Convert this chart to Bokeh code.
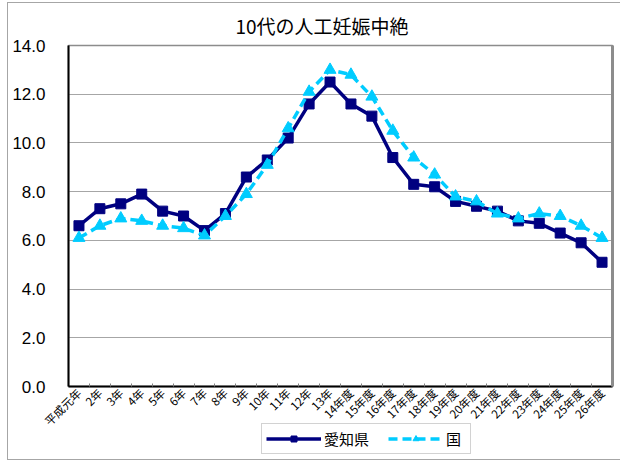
from bokeh.plotting import figure
from bokeh.layouts import column
from bokeh.models import Range1d, LinearAxis, FixedTicker, Legend, LegendItem, PrintfTickFormatter
from bokeh.embed import file_html
from bokeh.resources import INLINE
import math

# ---- data ----
years = ["平成元年", "2年", "3年", "4年", "5年", "6年", "7年", "8年", "9年", "10年",
         "11年", "12年", "13年", "14年度", "15年度", "16年度", "17年度", "18年度",
         "19年度", "20年度", "21年度", "22年度", "23年度", "24年度", "25年度", "26年度"]
aichi = [6.6, 7.3, 7.5, 7.9, 7.2, 7.0, 6.4, 7.1, 8.6, 9.3, 10.2, 11.6, 12.5,
         11.6, 11.1, 9.4, 8.3, 8.2, 7.6, 7.4, 7.2, 6.8, 6.7, 6.3, 5.9, 5.1]
national = [6.1, 6.6, 6.9, 6.8, 6.6, 6.5, 6.2, 7.0, 7.9, 9.1, 10.6, 12.1, 13.0,
            12.8, 11.9, 10.5, 9.4, 8.7, 7.8, 7.6, 7.1, 6.9, 7.1, 7.0, 6.6, 6.1]
y_ticks = [0, 2, 4, 6, 8, 10, 12, 14]
title_text = "10代の人工妊娠中絶"
series_names = ["愛知県", "国"]

JP = "Noto Sans CJK JP"
NAVY = "#000080"
CYAN = "#00CCFF"
FRAME_GRAY = "#a6a6a6"

xs = list(range(len(years)))

p1 = figure(width=620, height=437, x_range=Range1d(-0.5, len(years) - 0.5),
            y_range=Range1d(0, 14), output_backend="svg", toolbar_location=None,
            min_border_left=68, min_border_top=45, min_border_right=8, min_border_bottom=50)

p1.title.text = title_text
p1.title.align = "left"
p1.title.offset = 167
p1.title.standoff = 14
p1.title.text_font = JP
p1.title.text_font_size = "19px"
p1.title.text_font_style = "normal"
p1.title.text_color = "#000000"

p1.outline_line_color = "#8c8c8c"
p1.outline_line_width = 1.5
p1.background_fill_color = "white"
p1.border_fill_alpha = 0

p1.xgrid.visible = False
p1.ygrid.grid_line_color = FRAME_GRAY
p1.ygrid.grid_line_width = 1
p1.ygrid.ticker = FixedTicker(ticks=y_ticks)

xa = p1.xaxis[0]
xa.ticker = FixedTicker(ticks=xs, minor_ticks=[i + 0.5 for i in xs[:-1]])
xa.major_label_overrides = {i: lab for i, lab in enumerate(years)}
xa.major_label_orientation = math.pi / 4
xa.major_label_text_font = JP
xa.major_label_text_font_size = "11.5px"
xa.major_label_text_color = "#000000"
xa.major_label_standoff = 4
xa.major_tick_in = 0
xa.major_tick_out = 0
xa.minor_tick_in = 3
xa.minor_tick_out = 0
xa.minor_tick_line_color = "#808080"
xa.axis_line_color = "#000000"
xa.axis_line_width = 2

ya = p1.yaxis[0]
ya.ticker = FixedTicker(ticks=y_ticks)
ya.formatter = PrintfTickFormatter(format="%.1f")
ya.major_label_text_font = "Liberation Sans"
ya.major_label_text_font_size = "17px"
ya.major_label_text_color = "#000000"
ya.major_label_standoff = 23
ya.major_tick_in = 0
ya.major_tick_out = 0
ya.minor_tick_line_color = None
ya.axis_line_color = "#000000"
ya.axis_line_width = 2

ra = LinearAxis(ticker=FixedTicker(ticks=[]), major_label_text_font_size="0px",
                major_tick_in=0, major_tick_out=0, minor_tick_line_color=None,
                axis_line_color="#8c8c8c", axis_line_width=3)
p1.add_layout(ra, "right")

line_styles = [dict(line_color=NAVY, line_width=3.5),
               dict(line_color=CYAN, line_width=3.5, line_dash="9 5")]
marker_styles = [dict(marker="square", size=10, fill_color=NAVY, line_color=NAVY),
                 dict(marker="triangle", size=12, fill_color=CYAN, line_color=CYAN)]
series = [aichi, national]

for vals, ls, ms in zip(series, line_styles, marker_styles):
    p1.line(xs, vals, **ls)
    p1.scatter(xs, vals, **ms)

# legend strip below the chart (its own data view lies outside the value range,
# so only the legend is visible)
p2 = figure(width=620, height=38, x_range=p1.x_range, y_range=Range1d(100, 101),
            output_backend="svg", toolbar_location=None,
            x_axis_location=None, y_axis_location=None,
            min_border_left=68, min_border_right=8, min_border_top=0, min_border_bottom=0)
p2.styles = {"margin-top": "-14px"}
p2.grid.visible = False
p2.outline_line_color = None
p2.border_fill_alpha = 0
p2.background_fill_alpha = 0
items = []
for name, vals, ls, ms in zip(series_names, series, line_styles, marker_styles):
    r1 = p2.line(xs, vals, **ls)
    r2 = p2.scatter(xs, vals, **ms)
    items.append(LegendItem(label=name, renderers=[r1, r2]))

legend = Legend(items=items, orientation="horizontal", location=(193, 7))
legend.label_text_font = JP
legend.label_text_font_size = "15px"
legend.label_text_color = "#000000"
legend.glyph_width = 55
legend.glyph_height = 15
legend.label_height = 15
legend.label_standoff = 3
legend.spacing = 19
legend.padding = 4
legend.margin = 0
legend.border_line_color = FRAME_GRAY
legend.border_line_width = 1
legend.background_fill_color = "white"
p2.add_layout(legend, "center")

layout = column(p1, p2, spacing=0)
g = f"linear-gradient({FRAME_GRAY},{FRAME_GRAY})"
layout.styles = {
    "background": (f"{g} 7px 2px / 1px 457px no-repeat, "
                   f"{g} 7px 2px / 613px 1px no-repeat, "
                   f"{g} 7px 459px / 613px 1px no-repeat, white"),
}
open("out.html", "w").write(file_html(layout, INLINE))
